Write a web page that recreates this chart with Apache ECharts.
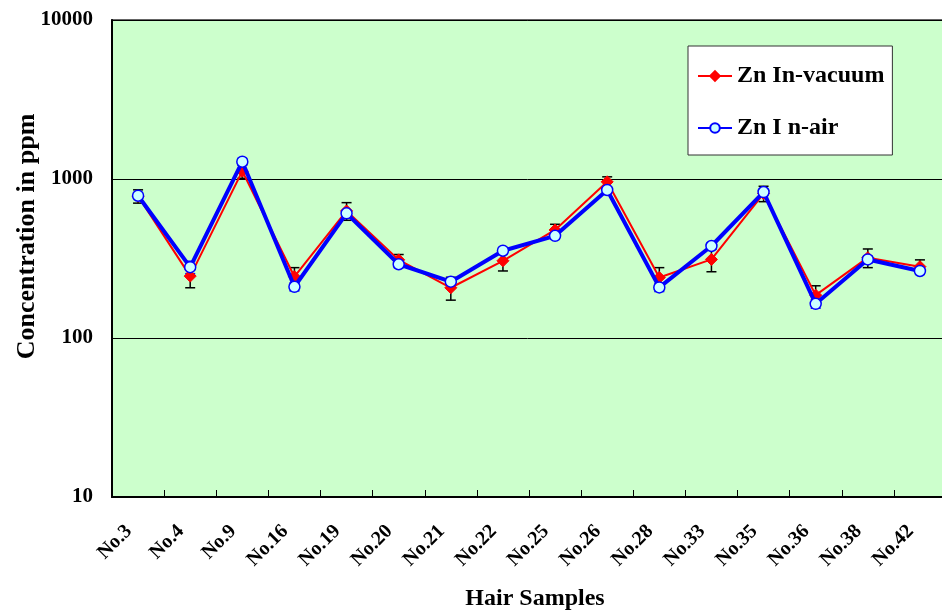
<!DOCTYPE html>
<html>
<head>
<meta charset="utf-8">
<script src="https://cdn.jsdelivr.net/npm/echarts@6/dist/echarts.min.js"></script>
<style>
  html, body { margin: 0; padding: 0; background: #ffffff; }
  #chart { width: 942px; height: 610px; }
</style>
</head>
<body>
<div id="chart"></div>
<script>
// Hair sample IDs
const samples = ['No.3', 'No.4', 'No.9', 'No.16', 'No.19', 'No.20', 'No.21', 'No.22',
                 'No.25', 'No.26', 'No.28', 'No.33', 'No.35', 'No.36', 'No.38', 'No.42'];

// Zn concentration (ppm), measured in vacuum
const znVacuum = [780, 245, 1120, 243, 630, 310, 207, 306, 478, 960, 240, 312, 810, 186, 320, 281];
const znVacuumErr = [75, 38, 110, 34, 80, 25, 34, 42, 41, 72, 37, 51, 90, 27, 43, 29];

// Zn concentration (ppm), measured in air
const znAir = [785, 279, 1285, 210, 608, 291, 226, 354, 439, 853, 208, 379, 828, 164, 312, 264];
const znAirErr = [30, 25, 60, 12, 25, 14, 10, 15, 20, 35, 12, 18, 40, 10, 15, 12];

const yTicks = [10, 100, 1000, 10000];

const serif = '"Liberation Serif", "DejaVu Serif", serif';

function errorRows(values, errs) {
  return values.map((v, i) => [i, v - errs[i], v + errs[i]]);
}

// Vertical error bars with caps, drawn through the chart's own coordinate system
function errorBarSeries(name, values, errs, color, z) {
  return {
    type: 'custom',
    name: name + ' error',
    z: z,
    silent: true,
    data: errorRows(values, errs),
    encode: { x: 0, y: [1, 2] },
    renderItem: function (params, api) {
      const i = api.value(0);
      const lo = api.coord([i, api.value(1)]);
      const hi = api.coord([i, api.value(2)]);
      const half = 5;
      const style = { stroke: color, lineWidth: 1.5, fill: null };
      return {
        type: 'group',
        children: [
          { type: 'line', shape: { x1: lo[0], y1: lo[1], x2: hi[0], y2: hi[1] }, style: style },
          { type: 'line', shape: { x1: lo[0] - half, y1: lo[1], x2: lo[0] + half, y2: lo[1] }, style: style },
          { type: 'line', shape: { x1: hi[0] - half, y1: hi[1], x2: hi[0] + half, y2: hi[1] }, style: style }
        ]
      };
    }
  };
}

const chart = echarts.init(document.getElementById('chart'), null, { renderer: 'canvas' });

chart.setOption({
  animation: false,
  backgroundColor: '#ffffff',
  textStyle: { fontFamily: serif },
  grid: {
    left: 112, right: -4, top: 20, bottom: 113,
    containLabel: false,
    outerBoundsMode: 'none',
    show: true,
    backgroundColor: '#ccffcc',
    borderColor: '#333333',
    borderWidth: 1.5
  },
  legend: {
    data: ['Zn In-vacuum', 'Zn I n-air'],
    orient: 'vertical',
    left: 688, top: 46,
    padding: [18, 8, 15, 9],
    itemGap: 28,
    itemWidth: 34,
    itemHeight: 12,
    backgroundColor: '#ffffff',
    borderColor: '#333333',
    borderWidth: 1,
    borderRadius: 0,
    textStyle: { fontFamily: serif, fontWeight: 'bold', fontSize: 24, color: '#000000' }
  },
  xAxis: {
    type: 'category',
    data: samples,
    boundaryGap: true,
    name: 'Hair Samples',
    nameLocation: 'middle',
    nameGap: 90,
    nameMoveOverlap: false,
    nameTextStyle: {
      fontFamily: serif, fontWeight: 'bold', fontSize: 24, color: '#000000',
      padding: [0, 0, 0, 12]
    },
    axisLine: { show: true, lineStyle: { color: '#000000', width: 2 } },
    axisTick: { show: true, inside: true, length: 7, interval: 0, lineStyle: { color: '#000000', width: 1 } },
    axisLabel: {
      interval: 0, rotate: 45, margin: 22,
      padding: [0, 13, 0, 0],
      fontFamily: serif, fontWeight: 'bold', fontSize: 20, color: '#000000'
    },
    splitLine: { show: false }
  },
  yAxis: {
    type: 'log',
    logBase: 10,
    min: yTicks[0],
    max: yTicks[yTicks.length - 1],
    name: 'Concentration in ppm',
    nameLocation: 'middle',
    nameRotate: 90,
    nameGap: 72,
    nameMoveOverlap: false,
    nameTextStyle: {
      fontFamily: serif, fontWeight: 'bold', fontSize: 26, color: '#000000',
      padding: [0, 0, 0, 44]
    },
    axisLine: { show: true, lineStyle: { color: '#000000', width: 2 } },
    axisTick: { show: false },
    axisLabel: {
      margin: 19,
      fontFamily: serif, fontWeight: 'bold', fontSize: 21, color: '#000000',
      formatter: function (v) { return yTicks.indexOf(Math.round(v)) >= 0 ? String(Math.round(v)) : ''; }
    },
    splitLine: { show: true, lineStyle: { color: '#000000', width: 1 } }
  },
  series: [
    errorBarSeries('Zn In-vacuum', znVacuum, znVacuumErr, '#000000', 2),
    errorBarSeries('Zn I n-air', znAir, znAirErr, '#0000ff', 2),
    {
      name: 'Zn In-vacuum',
      type: 'line',
      data: znVacuum,
      z: 3,
      symbol: 'diamond',
      symbolSize: 12,
      lineStyle: { color: '#ff0000', width: 2 },
      itemStyle: { color: '#ff0000', borderColor: '#ff0000', borderWidth: 1 }
    },
    {
      name: 'Zn I n-air',
      type: 'line',
      data: znAir,
      z: 4,
      symbol: 'circle',
      symbolSize: 11,
      lineStyle: { color: '#0000ff', width: 4 },
      itemStyle: { color: '#ccffff', borderColor: '#0000ff', borderWidth: 1.5 }
    }
  ]
});
</script>
</body>
</html>
